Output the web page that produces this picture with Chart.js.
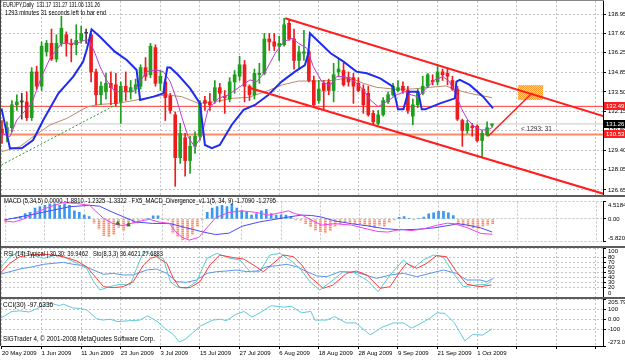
<!DOCTYPE html>
<html>
<head>
<meta charset="utf-8">
<script src="https://cdn.jsdelivr.net/npm/chart.js@4.4.1/dist/chart.umd.min.js"></script>
<style>
    html, body { margin: 0; padding: 0; background: #fff; }
    body { width: 625px; height: 362px; position: relative; overflow: hidden; }
    .pane { position: absolute; left: 0; width: 625px; }
    .sep { position: absolute; left: 0; width: 625px; height: 2px; background: #5c5c5c; }
</style>
</head>
<body>
<div class="pane" style="top:0;height:195px"><canvas id="main"></canvas></div>
<div class="sep" style="top:195px"></div>
<div class="pane" style="top:197px;height:49px"><canvas id="macd"></canvas></div>
<div class="sep" style="top:246px"></div>
<div class="pane" style="top:248px;height:49px"><canvas id="rsi"></canvas></div>
<div class="sep" style="top:297px"></div>
<div class="pane" style="top:299px;height:63px"><canvas id="cci"></canvas></div>
<div style="position:absolute;left:0;top:0;width:604px;height:1px;background:#888"></div>
<div style="position:absolute;left:0;top:0;width:1px;height:346px;background:#444"></div>
<script>
// date labels sit on every 8th bar
const dateLabels = ['20 May 2009', '1 Jun 2009', '11 Jun 2009', '23 Jun 2009', '3 Jul 2009', '15 Jul 2009',
    '27 Jul 2009', '6 Aug 2009', '18 Aug 2009', '28 Aug 2009', '9 Sep 2009', '21 Sep 2009', '1 Oct 2009'];
const gridBars = [0, 8, 16, 24, 32, 40, 48, 56, 64, 72, 80, 88, 96, 104, 112, 120];

const priceTicks = [126.65, 128.05, 129.40, 130.80, 132.15, 133.50, 134.85, 136.25, 137.60, 138.95];

const openP = [130.9, 130.6, 131.0, 132.6, 132.8, 132.8, 131.7, 134.9, 133.9, 136.3,
    136.9, 135.8, 136.9, 137.5, 136.9, 136.8, 137.1, 137.6, 137.5, 134.9,
    133.3, 133.5, 134.1, 134.0, 132.8, 133.9, 133.5, 133.7, 133.9, 135.2,
    134.7, 136.6, 134.1, 134.2, 133.2, 131.9, 128.9, 130.3, 128.7, 129.7,
    130.4, 132.9, 132.8, 132.9, 133.8, 133.2, 133.0, 134.2, 134.6, 135.4,
    133.9, 133.3, 134.7, 134.8, 137.2, 137.0, 136.7, 136.8, 138.3, 137.2,
    135.7, 136.2, 136.3, 134.3, 132.9, 134.1, 134.2, 133.6, 134.9, 135.0,
    134.5, 134.5, 134.1, 133.7, 133.4, 132.0, 131.3, 131.9, 132.8, 133.3,
    133.6, 133.9, 133.6, 131.8, 132.6, 133.4, 133.9, 134.3, 134.2, 134.9,
    134.8, 134.3, 133.7, 131.5, 130.8, 131.1, 131.1, 130.1, 130.5, 131.17];
const highP = [131.5, 131.4, 132.9, 133.3, 133.4, 133.5, 135.2, 135.3, 137.0, 137.1,
    137.9, 137.5, 138.8, 137.7, 137.2, 138.2, 138.1, 137.9, 137.6, 135.1,
    134.2, 134.8, 134.9, 134.8, 134.2, 134.9, 134.3, 134.4, 135.4, 135.9,
    136.9, 136.8, 135.0, 134.4, 133.4, 132.1, 131.3, 130.6, 130.4, 130.7,
    132.9, 133.2, 133.4, 134.3, 134.1, 133.6, 134.5, 135.0, 136.0, 135.7,
    134.0, 135.1, 135.5, 137.6, 137.6, 137.6, 137.4, 138.65, 138.5, 137.9,
    136.7, 137.8, 136.4, 134.6, 134.3, 134.3, 134.4, 135.5, 135.8, 135.5,
    134.9, 134.8, 134.5, 134.0, 133.9, 132.2, 132.2, 133.1, 133.5, 134.1,
    134.3, 134.2, 133.9, 133.0, 133.7, 134.6, 134.8, 134.7, 135.4, 135.1,
    135.1, 134.6, 133.9, 131.6, 131.5, 131.3, 131.2, 130.8, 131.4, 131.27];
const lowP = [129.9, 130.0, 130.7, 132.2, 131.6, 131.5, 131.5, 133.7, 133.6, 136.0,
    135.7, 135.6, 136.7, 136.0, 135.6, 136.1, 136.9, 136.9, 134.2, 132.6,
    132.6, 133.0, 132.6, 132.5, 131.3, 132.9, 133.0, 133.4, 133.7, 134.3,
    134.5, 133.9, 133.6, 131.5, 132.0, 126.9, 128.5, 127.6, 127.8, 129.2,
    130.1, 132.2, 132.2, 132.7, 132.8, 132.0, 132.8, 133.4, 134.3, 132.8,
    132.9, 133.0, 134.1, 134.7, 136.4, 136.4, 135.7, 136.7, 137.1, 135.1,
    135.1, 135.7, 134.2, 132.5, 132.7, 132.2, 133.3, 132.8, 134.6, 133.9,
    133.9, 132.7, 133.5, 132.0, 131.8, 131.2, 131.2, 131.8, 132.7, 133.2,
    133.5, 133.4, 132.0, 131.2, 132.4, 133.3, 133.8, 134.0, 134.0, 134.3,
    134.0, 133.6, 131.5, 129.7, 130.6, 130.4, 130.0, 128.9, 130.4, 131.06];
const closeP = [130.6, 131.0, 132.6, 132.8, 132.8, 131.7, 134.9, 133.9, 136.7, 136.9,
    135.8, 136.9, 137.95, 136.9, 136.8, 137.1, 137.6, 137.6, 134.9, 133.3,
    133.9, 134.1, 133.8, 132.7, 133.9, 133.5, 133.8, 134.0, 135.2, 134.6,
    136.7, 134.1, 134.6, 133.1, 132.2, 128.9, 130.6, 128.7, 129.7, 130.4,
    132.7, 132.7, 132.6, 133.8, 133.4, 133.1, 134.2, 134.7, 135.4, 133.9,
    133.3, 134.8, 134.8, 137.2, 137.0, 136.7, 136.9, 138.2, 137.2, 135.7,
    136.3, 136.3, 134.3, 132.6, 133.7, 133.6, 133.6, 134.7, 135.1, 134.0,
    134.2, 133.9, 133.6, 132.6, 131.9, 131.4, 131.9, 132.9, 133.3, 133.9,
    133.8, 133.6, 132.2, 132.6, 133.5, 133.9, 134.7, 134.2, 134.9, 134.7,
    134.6, 133.7, 131.6, 130.8, 131.3, 131.0, 130.1, 130.6, 131.0, 131.26];

// overlays on the price window, [bar, price]
const blueBand = [[-0.1, 132.35], [1.6, 129.56], [4.0, 129.56], [6.3, 130.14], [8.35, 131.54], [11.4, 133.40],
    [14.4, 134.57], [16.4, 135.62], [17.2, 136.55], [18.1, 137.88], [19.8, 137.36], [22.8, 136.32], [25.2, 135.73],
    [27.2, 135.03], [27.9, 132.94], [30.6, 133.17], [32.6, 133.40], [33.1, 134.57], [33.4, 135.2], [34, 135.2],
    [35.6, 134.68], [38, 133.75], [40, 132.70], [41, 129.79], [42.4, 129.56], [44, 129.79], [46.4, 131.19],
    [48.8, 132.24], [51.1, 132.59], [53.8, 133.29], [56.5, 134.22], [59.2, 134.92], [61.2, 135.38], [61.9, 136.2],
    [62.2, 137.6], [66.4, 136.2], [69, 135.62], [71.6, 134.92], [73.7, 134.80], [76.4, 134.45], [79, 133.87],
    [80, 132.28], [81.1, 132.28], [82.1, 133.52], [84.1, 133.52], [84.8, 132.28], [85.5, 132.28], [88.5, 132.70],
    [91.5, 133.05], [91.8, 134.22], [92.5, 134.34], [94.5, 133.99], [97.2, 133.17], [99.2, 132.35]];
const fastMa = [[-0.1, 130.6], [1.6, 130.37], [3.0, 131.54], [6.0, 132.7], [8.0, 134.57], [9.7, 135.85],
    [11, 136.43], [12, 136.9], [15, 136.9], [16.8, 137.13], [17.6, 137.13], [18.8, 136.2], [19.8, 135.27],
    [21.1, 134.34], [22.8, 133.52], [24.5, 133.52], [26.5, 133.52], [27.9, 134.22], [29.2, 134.92], [31.2, 135.03],
    [32.6, 134.92], [34, 134.22], [35.3, 132.94], [36.3, 131.77], [37.6, 130.37], [38.9, 129.67], [40.3, 130.37],
    [41.6, 132.24], [43.7, 133.05], [45.7, 133.29], [48.1, 133.87], [50.1, 134.34], [51.5, 134.22], [53.2, 134.92],
    [55.2, 136.2], [56.9, 137.02], [58.6, 137.25], [59.9, 136.9], [61.6, 136.55], [62.9, 135.27], [64.6, 134.22],
    [66.3, 133.95], [67.6, 134.57], [69.3, 134.57], [71.3, 134.22], [73, 133.64], [74.4, 132.94], [76, 132.47],
    [77.7, 132.82], [79.7, 133.29], [81.4, 133.52], [82.7, 133.29], [84.1, 133.17], [85.4, 133.64], [87.4, 134.34],
    [89.1, 134.57], [90.4, 134.22], [91.8, 133.29], [92.8, 132.35], [94.1, 131.54], [95.5, 131.07], [96.8, 130.84],
    [98.1, 130.84], [99.1, 131.02]];
const slowMa = [[-0.1, 129.32], [3.6, 129.67], [6.3, 130.37], [9.7, 131.19], [13.1, 131.65], [16.1, 132.24],
    [17.4, 132.47], [19.8, 132.63], [23.2, 132.70], [26.5, 132.89], [29.9, 133.12], [33.3, 133.29], [36.3, 133.17],
    [39.7, 132.70], [43.1, 132.82], [46.4, 133.05], [49.8, 133.12], [53.2, 133.52], [56.6, 133.99], [59.9, 134.26],
    [63.3, 134.26], [66.6, 134.3], [70.3, 134.5], [73, 134.1], [75.7, 133.82], [79.7, 133.68], [83, 133.71],
    [86.4, 133.82], [89.7, 133.92], [91.8, 133.64], [94.5, 133.40], [99, 133.1]];
const supportLine = [[-0.1, 128.39], [23, 132.6]];
const channelTop = [[57.2, 138.65], [121.5, 131.81]];
const channelBottom = [[50.1, 133.78], [121.5, 126.38]];
const targetArrow = [[98.2, 130.4], [107.1, 133.43]];
const targetBox = [[104.2, 133.99], [109.3, 133.99]];
const targetBoxFloor = 132.94;
const levelHigh = 132.49;
const levelLow = 130.53;
const bidPrice = 131.26;

// MACD window
const macdTicks = [-5.8209, 0, 4.5184];
const macdHist = [-1.0, 0.1, 0.3, 0.65, 1.4, 1.7, 2.8, 3.2, 3.5, 3.9,
    3.9, 3.5, 3.9, 3.5, 2.1, 1.7, 1.0, 0.6, -1.1, -2.6,
    -4.3, -4.6, -4.0, -2.2, -3.0, -1.9, -1.1, -1.0, -0.3, 0.2,
    0.8, 0.8, -0.2, -0.4, -3.6, -4.6, -5.4, -5.1, -4.0, -1.9,
    -0.3, 1.7, 2.8, 3.2, 3.5, 3.2, 3.9, 2.8, 2.1, 1.7,
    1.0, 1.4, 2.1, 2.5, 1.4, 1.0, 1.1, 1.0, 0.65, -0.3,
    -0.4, -1.2, -2.0, -2.9, -3.3, -3.6, -3.0, -1.9, -1.2, -0.9,
    -0.9, -1.2, -1.2, -1.6, -1.9, -2.3, -1.6, -1.9, -0.9, -0.3,
    0.4, 0.6, 0.2, -0.2, 0.2, 0.5, 1.3, 1.6, 2.0, 2.0,
    1.6, 0.9, -1.2, -1.6, -1.9, -2.3, -2.6, -1.9, -1.6, -1.2];
const macdSignal = [[-0.4, -0.29], [6.3, 1.37], [9.7, 2.3], [13.1, 3.17], [17.1, 3.53], [19.1, 3.31], [21.8, 1.73],
    [26.5, -0.79], [29.9, -1.15], [33.3, -1.15], [36.6, -2.23], [40, -3.31], [42.7, -4.03], [45.4, -3.67],
    [48.1, -1.87], [51.5, -0.79], [54.8, -0.07], [58.2, 0.65], [60.2, 1.0], [62.2, 0.9], [64.2, 0.5], [66.9, -0.5],
    [70.3, -1.22], [73.7, -1.8], [77, -2.5], [80.4, -2.8], [83.8, -2.66], [87.1, -2.3], [90.5, -1.58], [91.8, -1.22],
    [93.9, -1.58], [96.6, -2.3], [98.9, -3.38]];
const macdMain = [[-0.4, -0.43], [1.6, -0.79], [3.6, -0.07], [6.3, 1.73], [9, 3.17], [11.7, 4.24], [14.4, 4.03],
    [17.1, 3.53], [19.8, 0.29], [21.8, -1.15], [23.8, -1.73], [26.5, -0.79], [29.2, -0.07], [31.2, -0.79],
    [33.3, -1.15], [34.6, -3.31], [35.9, -4.75], [37.3, -5.47], [39.3, -4.75], [40.7, -2.59], [42.7, 0.29],
    [45.4, 1.73], [48.1, 2.09], [50.8, 1.73], [53.5, 1.0], [56.2, 1.73], [57.5, 2.09], [58.9, 1.37], [60.4, 0.9],
    [62.5, -0.5], [64.2, -1.58], [66.9, -1.22], [70.3, -1.58], [73.7, -2.66], [75.7, -3.24], [77.7, -3.38],
    [80.4, -2.66], [82.4, -3.02], [85.1, -2.52], [87.8, -1.58], [89.8, -1.08], [91.2, -1.22], [93.9, -2.3],
    [96.6, -3.74], [98.9, -3.96]];
const divergenceMarks = [[22.8, -1.1], [25, -1.5]];

// RSI / stochastic window
const rsiTicks = [0, 20, 30, 40, 50, 60, 70, 80, 100];
const rsiLine = [[-0.4, 46.3], [1.6, 51.7], [3.6, 57.1], [6.3, 61.9], [8.4, 66.7], [10.4, 68.7], [12.4, 70.7],
    [14.4, 66.7], [16.4, 63.9], [18.5, 55.1], [20.5, 46.3], [22.5, 48.3], [24.5, 44.9], [26.5, 44.9], [29.2, 55.1],
    [31.2, 57.1], [33.3, 48.3], [35.3, 31.3], [37.3, 29.9], [39.3, 34.7], [41.4, 48.3], [43.4, 51.7], [45.4, 53.1],
    [47.4, 55.1], [49.4, 51.7], [51.5, 53.1], [53.5, 61.9], [55.5, 63.9], [57.5, 66.7], [59.5, 61.9], [61.6, 51.7],
    [63.6, 43], [65.6, 41.5], [68.3, 51.7], [71.6, 50.3], [75.7, 38.1], [78.4, 44.9], [81.1, 48.3], [83.8, 41.5],
    [86.5, 48.3], [89.2, 55.1], [91.8, 48.3], [93.9, 34.7], [96.6, 34.7], [97.9, 31.3], [99.3, 38.1]];
const stochSignal = [[-0.4, 48.3], [1.6, 68.7], [3.6, 82.3], [5.7, 85.7], [8.4, 87.1], [10.4, 85.7], [12.4, 82.3],
    [15.1, 73.5], [17.1, 61.9], [19.1, 38.1], [20.5, 21.1], [22.5, 19.1], [24.5, 21.1], [26.5, 31.3], [28.6, 65.3],
    [30, 78.9], [31.2, 82.3], [33.3, 68.7], [34.6, 38.1], [35.9, 19.1], [38, 19.1], [40, 31.3], [42, 65.3],
    [44, 85.7], [46.8, 80.3], [48.8, 77.5], [50.8, 65.3], [52.8, 51.7], [54.8, 68.7], [56.8, 85.7], [58.9, 82.3],
    [60.6, 65], [62.2, 41.5], [64.9, 17.7], [66.9, 24.5], [69.6, 48.3], [71.6, 53.1], [73.7, 44.9], [76.4, 17.7],
    [78.4, 21.1], [80.4, 51.7], [81.7, 68.7], [83.8, 58.5], [85.8, 68.7], [87.8, 84.3], [89.8, 82.3], [91.8, 51.7],
    [93.9, 25.9], [96.6, 21.1], [98.9, 24.5]];
const stochMain = [[-0.4, 58.5], [1.6, 82.3], [3.6, 92.5], [5.7, 87.1], [8.4, 78.9], [11, 85.7], [13.1, 78.9],
    [15.1, 68.7], [17.1, 58.5], [18.5, 31.3], [19.8, 14.3], [21.8, 21.1], [23.8, 25.9], [25.9, 24.5], [27.2, 58.5],
    [28.6, 92.5], [30.6, 85.7], [32.6, 78.9], [34, 31.3], [35.3, 21.1], [37.3, 17.7], [39.3, 31.3], [41.4, 78.9],
    [43.4, 89.1], [46.1, 78.9], [48.1, 75.5], [50.1, 51.7], [52.1, 51.7], [54.1, 85.7], [56.2, 89.1], [58.2, 75.5],
    [60.2, 58.5], [62.2, 31.3], [64.2, 14.3], [66.9, 34.7], [68.9, 51.7], [71, 50.3], [73.7, 34.7], [76, 10.9],
    [78.4, 44.9], [81.1, 75.5], [83.1, 58.5], [85.1, 75.5], [87.1, 85.7], [89.1, 82.3], [91.2, 48.3], [93.2, 21.1],
    [95.9, 24.5], [97.9, 25.9], [98.9, 32.7]];

// CCI window
const cciTicks = [-273.0907, -100, 0, 100, 205.7907];
const cciLine = [[-0.4, 6], [2, 79], [3.6, 85], [5.5, 73], [7.1, 109], [8.8, 153], [10, 162], [11.6, 138],
    [12.4, 153], [14.3, 115], [15.9, 109], [17.1, 94], [19.1, 6], [20.3, -9], [21.8, 0], [23.4, -24], [25.9, -15],
    [27.9, -9], [29.4, 35], [31.4, -24], [33, -97], [34.6, -156], [35.8, -230], [37, -205], [38.5, -141],
    [40.1, -68], [42.6, -9], [44.2, 0], [45.3, -15], [47.3, 50], [48.9, 79], [50.5, 21], [52.1, 65], [54.4, 138],
    [56.8, 123], [58.5, 132], [60.5, 65], [62.4, 79], [63.2, -9], [65.6, -9], [67.2, 26], [69.6, -38], [71.5, -38],
    [74.4, -160], [76.8, -82], [79.1, -38], [81.1, -38], [82.7, -91], [84.3, -53], [86.3, 6], [87.9, 65],
    [89.5, 59], [91.4, -38], [93.5, -220], [95.1, -156], [97.1, -162], [99, -97.6]];

const X_MIN = -0.2;
const X_MAX = 121.42;
const FONT = { family: 'Liberation Sans, Arial, sans-serif', size: 6 };
const GRID = '#c4c4c4';
const BULL = '#1f9f1f';
const BEAR = '#ee1c1c';

const xy = (pairs) => pairs.map(([x, y]) => ({ x, y }));
const bars = closeP.map((_, i) => i);
const candleColor = (i) => (closeP[i] > openP[i] ? BULL : closeP[i] < openP[i] ? BEAR : '#404040');

function stripes(a, b) {
    const c = document.createElement('canvas');
    c.width = 2; c.height = 2;
    const g = c.getContext('2d');
    g.fillStyle = b; g.fillRect(0, 0, 2, 2);
    g.fillStyle = a; g.fillRect(0, 0, 2, 1);
    return g.createPattern(c, 'repeat');
}
function dots(a, b) {
    const c = document.createElement('canvas');
    c.width = 2; c.height = 2;
    const g = c.getContext('2d');
    g.fillStyle = b; g.fillRect(0, 0, 2, 2);
    g.fillStyle = a; g.fillRect(0, 0, 1, 1); g.fillRect(1, 1, 1, 1);
    return g.createPattern(c, 'repeat');
}

function xAxis(withLabels) {
    return {
        type: 'linear', position: 'bottom', min: X_MIN, max: X_MAX, offset: false,
        afterBuildTicks: (s) => { s.ticks = gridBars.map((v) => ({ value: v })); },
        afterFit: (s) => { s.height = withLabels ? 16 : 0; s.paddingLeft = 0; s.paddingRight = 0; },
        ticks: {
            display: withLabels, autoSkip: false, maxRotation: 0, align: 'start', padding: 1,
            font: FONT, color: '#000',
            callback: (v) => dateLabels[gridBars.indexOf(v)] ?? '',
        },
        grid: { offset: false, color: GRID, drawTicks: withLabels, tickLength: 3, tickColor: '#000', tickBorderDash: [] },
        border: { display: withLabels, color: '#000', dash: [2, 2] },
    };
}

function yAxis(min, max, values, label) {
    return {
        type: 'linear', position: 'right', min, max, beginAtZero: false,
        afterBuildTicks: (s) => { s.ticks = values.map((v) => ({ value: v })); },
        afterFit: (s) => { s.width = 22; s.paddingTop = 0; s.paddingBottom = 0; },
        ticks: { autoSkip: false, padding: 2, font: FONT, color: '#000', callback: (v) => label(v) },
        grid: { color: GRID, tickLength: 3, tickColor: '#000', tickBorderDash: [] },
        border: { color: '#000', dash: [2, 2] },
    };
}

// labels at the window edges are pushed inside, like the terminal does
const edgeLabel = (v, lo, hi, text) => (v === hi ? ['', text] : v === lo ? [text, ''] : text);

const notes = {
    id: 'notes',
    afterDraw(chart, args, opts) {
        const ctx = chart.ctx;
        ctx.save();
        ctx.textBaseline = 'middle';
        for (const n of opts.items || []) {
            ctx.font = (n.size || 6.5) + 'px Liberation Sans, Arial, sans-serif';
            ctx.fillStyle = n.color || '#000';
            ctx.fillText(n.text, n.x, n.y, n.w);
        }
        const y = chart.scales.y;
        for (const m of opts.marks || []) {
            const py = Math.round(y.getPixelForValue(m.value));
            ctx.fillStyle = m.bg;
            ctx.fillRect(chart.chartArea.right + 1, py - 4, chart.width - chart.chartArea.right - 1, 8);
            ctx.fillStyle = m.fg;
            ctx.font = '6px Liberation Sans, Arial, sans-serif';
            ctx.fillText(m.value.toFixed(2), chart.chartArea.right + 3, py + 0.5, 19);
        }
        ctx.restore();
    },
};

Chart.defaults.font.family = FONT.family;
Chart.defaults.font.size = 6;

const base = (padding) => ({
    responsive: true,
    maintainAspectRatio: false,
    animation: false,
    events: [],
    layout: { padding },
});

const line = (data, color, width, order, extra = {}) => ({
    type: 'line', data: xy(data), borderColor: color, borderWidth: width,
    pointRadius: 0, tension: 0, fill: false, order, ...extra,
});
const hline = (value, color, width, order) =>
    line([[X_MIN, value], [X_MAX, value]], color, width, order);

new Chart(document.getElementById('main'), {
    type: 'bar',
    data: {
        datasets: [
            {
                type: 'line', data: xy(targetBox), borderWidth: 0, pointRadius: 0,
                fill: { value: targetBoxFloor }, backgroundColor: dots('#ff9c2a', '#ffd870'), order: 12,
            },
            hline(bidPrice, '#c8c8c8', 1, 11),
            hline(levelHigh, '#ff3c3c', 1, 10),
            hline(levelLow, '#ff8a66', 2, 10),
            line(supportLine, '#2e9a2e', 1, 9, { borderDash: [2, 2] }),
            line(slowMa, '#b98a70', 1, 8),
            {
                data: bars.map((i) => ({ x: i, y: [lowP[i], highP[i]] })),
                backgroundColor: bars.map(candleColor), barThickness: 1, grouped: false, order: 7,
            },
            {
                data: bars.map((i) => ({ x: i, y: [openP[i], closeP[i]] })),
                backgroundColor: bars.map(candleColor), barThickness: 3, minBarLength: 1, grouped: false, order: 6,
            },
            line(fastMa, '#c03cd0', 1, 5),
            line(blueBand, '#1f2cf0', 2, 4),
            line(channelTop, '#ff1e1e', 2, 3),
            line(channelBottom, '#ff1e1e', 2, 3),
            line(targetArrow, '#ff1e1e', 1.5, 2),
        ],
    },
    options: {
        ...base({ left: 1, top: 1, right: 0, bottom: 0 }),
        scales: {
            x: xAxis(false),
            y: yAxis(126.29, 139.86, priceTicks, (v) => v.toFixed(2)),
        },
        plugins: {
            legend: { display: false },
            tooltip: { enabled: false },
            notes: {
                items: [
                    { text: 'EURJPY,Daily  131.17 131.27 131.06 131.26', x: 3, y: 5.5, w: 97 },
                    { text: '1293 minutes 31 seconds left to bar end', x: 5, y: 13.5, w: 101 },
                    { text: '< 1293: 31', x: 521, y: 129, w: 34, color: '#333' },
                ],
                marks: [
                    { value: levelHigh, bg: '#f82020', fg: '#fff' },
                    { value: bidPrice, bg: '#000', fg: '#fff' },
                    { value: levelLow, bg: '#f82020', fg: '#fff' },
                ],
            },
        },
    },
    plugins: [notes],
});

new Chart(document.getElementById('macd'), {
    type: 'bar',
    data: {
        datasets: [
            {
                data: bars.map((i) => ({ x: i, y: macdHist[i] })),
                backgroundColor: bars.map((i) => (macdHist[i] >= 0 ? '#3a98f0' : stripes('#ff8c6a', '#ffc2ae'))),
                barThickness: 2, grouped: false, order: 5,
            },
            line(macdSignal, '#4a4af0', 1, 3),
            line(macdMain, '#f040f0', 1, 2),
            {
                type: 'line', data: xy(divergenceMarks), showLine: false, pointStyle: 'triangle',
                pointRadius: 2.2, pointBackgroundColor: '#1e9a1e', pointBorderColor: '#136013', pointBorderWidth: 0.5, order: 1,
            },
        ],
    },
    options: {
        ...base({ left: 1, top: 0, right: 0, bottom: 0 }),
        scales: {
            x: xAxis(false),
            y: yAxis(-5.8209, 4.5184, macdTicks, (v) => edgeLabel(v, -5.8209, 4.5184, v === 0 ? '0.00' : v.toFixed(4))),
        },
        plugins: {
            legend: { display: false },
            tooltip: { enabled: false },
            notes: {
                items: [
                    { text: 'MACD (5,34,5) 0.0000 -1.8810 -1.2325 -1.3322   FX5_MACD_Divergence_v1.1(5, 34, 9) -1.7090 -1.2795', x: 4, y: 4.5, w: 272 },
                ],
            },
        },
    },
    plugins: [notes],
});

new Chart(document.getElementById('rsi'), {
    type: 'line',
    data: {
        datasets: [
            line(rsiLine, '#5a96f0', 1, 3),
            line(stochMain, '#5ccccc', 1, 2),
            line(stochSignal, '#ff3a3a', 1, 1),
        ],
    },
    options: {
        ...base({ left: 1, top: 0, right: 0, bottom: 0 }),
        scales: {
            x: xAxis(false),
            y: yAxis(0, 100, rsiTicks, (v) => edgeLabel(v, 0, 100, String(v))),
        },
        plugins: {
            legend: { display: false },
            tooltip: { enabled: false },
            notes: {
                items: [
                    { text: 'RSI (14) Typical | 30,30: 39.9462   Sto(8,3,3) 36.4621 27.6883', x: 4, y: 6, w: 159 },
                ],
            },
        },
    },
    plugins: [notes],
});

new Chart(document.getElementById('cci'), {
    type: 'line',
    data: {
        datasets: [line(cciLine, '#62c8dc', 1, 1)],
    },
    options: {
        ...base({ left: 1, top: 0, right: 0, bottom: 0 }),
        scales: {
            x: xAxis(true),
            y: yAxis(-273.0907, 205.7907, cciTicks,
                (v) => edgeLabel(v, -273.0907, 205.7907, v === 0 ? '0.00' : Number.isInteger(v) ? String(v) : v.toFixed(4))),
        },
        plugins: {
            legend: { display: false },
            tooltip: { enabled: false },
            notes: {
                items: [
                    { text: 'CCI(30) -97.6336', x: 3, y: 6, w: 53 },
                    { text: 'SIGTrader 4, © 2001-2008 MetaQuotes Software Corp.', x: 3, y: 40, w: 152 },
                ],
            },
        },
    },
    plugins: [notes],
});
</script>
</body>
</html>
